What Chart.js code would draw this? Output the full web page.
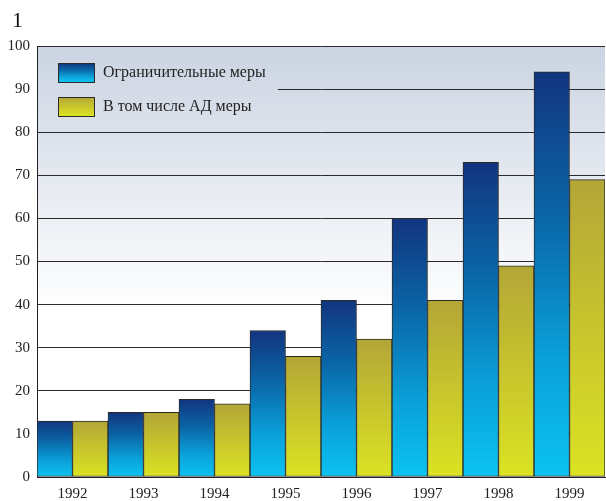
<!DOCTYPE html>
<html><head><meta charset="utf-8">
<script src="https://cdn.jsdelivr.net/npm/chart.js@4/dist/chart.umd.min.js"></script>
<style>html,body{margin:0;padding:0;background:#fff}#wrap{width:606px;height:501px;position:relative}</style>
</head><body><div id="wrap"><canvas id="c" width="606" height="501"></canvas></div>
<script>
const categories = ['1992','1993','1994','1995','1996','1997','1998','1999'];
const restrictive = [13, 15, 18, 34, 41, 60, 73, 94];
const adMeasures = [13, 15, 17, 28, 32, 41, 49, 69];
const seriesNames = ['Ограничительные меры', 'В том числе АД меры'];
const titleText = '1';
const FONT = "'Liberation Serif', 'DejaVu Serif', serif";

function barGrad(ctx, stops) {
  const chart = ctx.chart;
  const area = chart.chartArea;
  if (!area || ctx.type !== 'data') return stops[stops.length-1][1];
  const y = chart.scales.y;
  const top = y.getPixelForValue(ctx.raw);
  const bot = y.getPixelForValue(0);
  const g = chart.ctx.createLinearGradient(0, top, 0, bot);
  stops.forEach(s => g.addColorStop(s[0], s[1]));
  return g;
}
const blueStops = [[0,'#12357f'],[0.35,'#0a65a6'],[0.7,'#0a9fd8'],[1,'#0bc3f0']];
const yellowStops = [[0,'#b3a637'],[1,'#dbe322']];

function bgGrad(chart) {
  const a = chart.chartArea;
  const y = chart.scales.y;
  const g = chart.ctx.createLinearGradient(0, a.top, 0, y.getPixelForValue(38));
  g.addColorStop(0, '#cbd4e2');
  g.addColorStop(1, '#ffffff');
  return g;
}

const deco = {
  id: 'deco',
  beforeDraw(chart) {
    const c = chart.ctx, a = chart.chartArea;
    c.save();
    c.fillStyle = bgGrad(chart);
    c.fillRect(a.left, a.top, a.right - a.left, a.bottom - a.top);
    c.fillStyle = '#111';
    c.font = '22px ' + FONT;
    c.textBaseline = 'alphabetic';
    c.fillText(titleText, 12, 27);
    c.restore();
  },
  beforeDatasetsDraw(chart) {
    const c = chart.ctx, a = chart.chartArea;
    c.save();
    c.fillStyle = bgGrad(chart);
    c.fillRect(a.left + 1, a.top + 2, 240, 80);
    const items = [[blueStops, seriesNames[0], 63], [yellowStops, seriesNames[1], 97]];
    items.forEach(([stops, label, yy]) => {
      const g = c.createLinearGradient(0, yy, 0, yy + 19);
      stops.forEach(s => g.addColorStop(s[0], s[1]));
      c.fillStyle = g;
      c.fillRect(58.5, yy + 0.5, 36, 19);
      c.strokeStyle = '#2a2a2a';
      c.lineWidth = 1;
      c.strokeRect(58.5, yy + 0.5, 36, 19);
      c.fillStyle = '#222';
      c.font = '16px ' + FONT;
      c.textBaseline = 'middle';
      c.fillText(label, 103, yy + 10);
    });
    c.restore();
  }
};

new Chart(document.getElementById('c'), {
  type: 'bar',
  data: {
    labels: categories,
    datasets: [
      { label: seriesNames[0], data: restrictive, backgroundColor: ctx => barGrad(ctx, blueStops),
        borderColor: '#2a2a2a', borderWidth: 1, borderSkipped: false },
      { label: seriesNames[1], data: adMeasures, backgroundColor: ctx => barGrad(ctx, yellowStops),
        borderColor: '#2a2a2a', borderWidth: 1, borderSkipped: false }
    ]
  },
  options: {
    responsive: false,
    animation: false,
    layout: { padding: { top: 46, right: 1, left: 0, bottom: 0 } },
    datasets: { bar: { barPercentage: 1, categoryPercentage: 1 } },
    plugins: { legend: { display: false }, title: { display: false }, tooltip: { enabled: false } },
    scales: {
      x: {
        grid: { display: false, drawTicks: false },
        border: { color: '#222', width: 1 },
        ticks: { color: '#222', font: { family: FONT, size: 15 }, padding: 8 },
        afterFit(s) { s.height = 24; }
      },
      y: {
        min: 0, max: 100,
        grid: { color: '#2a2a2a', lineWidth: 1, drawTicks: false },
        border: { color: '#222', width: 1 },
        ticks: { stepSize: 10, color: '#222', font: { family: FONT, size: 15 }, padding: 7 },
        afterFit(s) { s.width = 37; }
      }
    }
  },
  plugins: [deco]
});
</script></body></html>
